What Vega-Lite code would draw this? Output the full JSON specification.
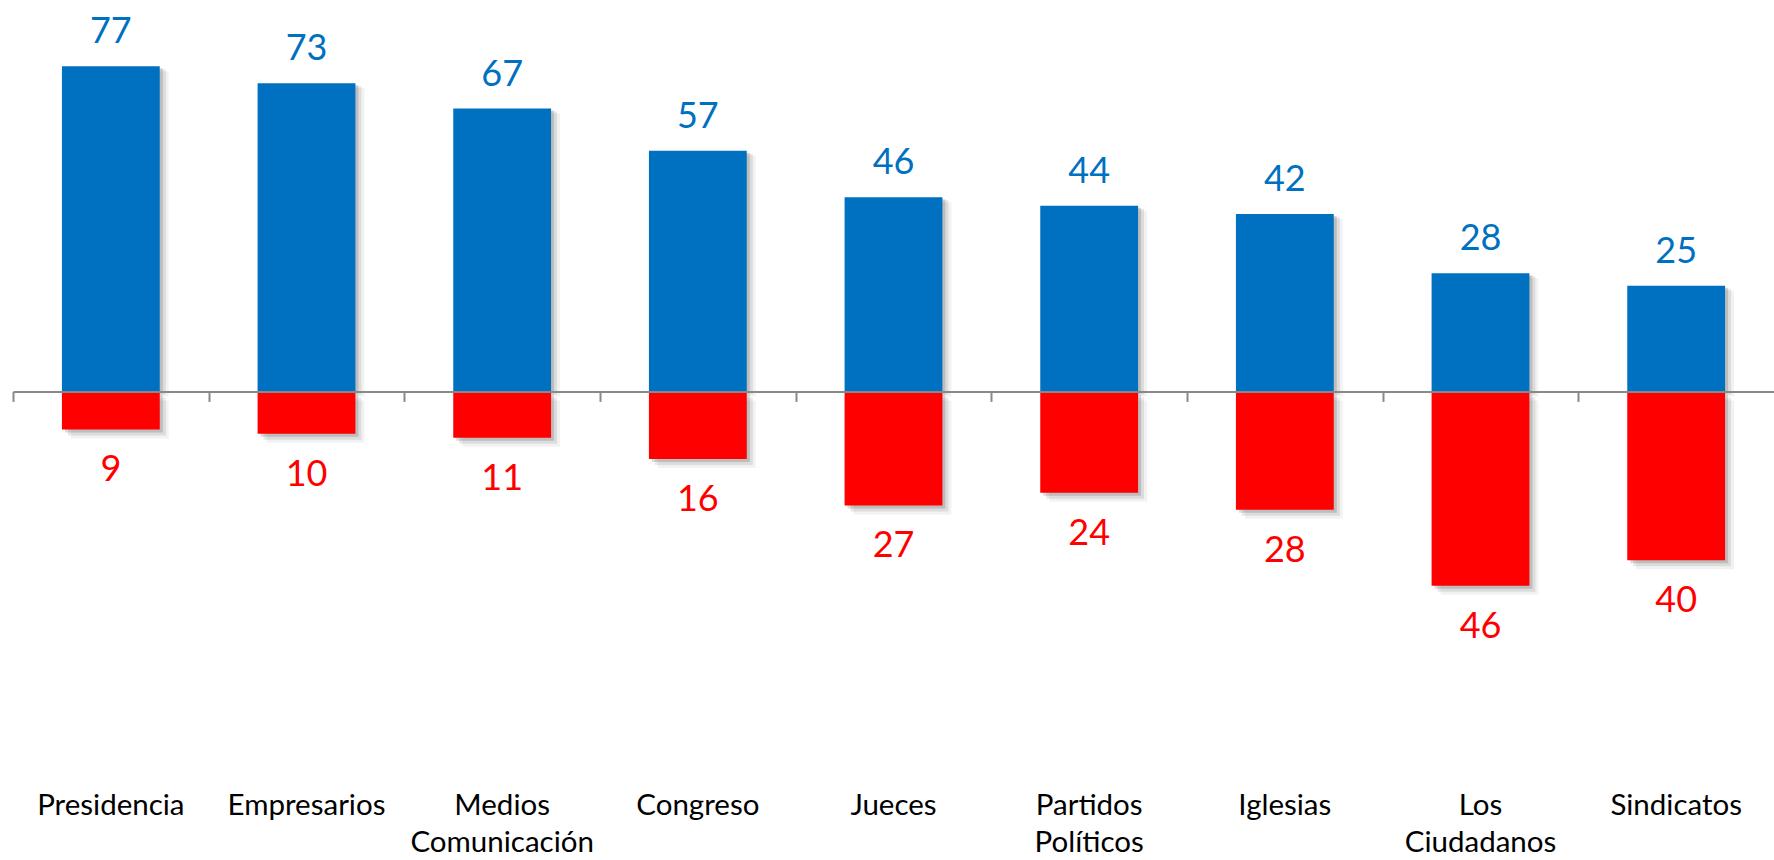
{
  "$schema": "https://vega.github.io/schema/vega-lite/v6.json",
  "width": 1761,
  "height": 687,
  "padding": {"left": 13, "top": 0, "right": 0, "bottom": 173},
  "autosize": {"type": "none"},
  "background": "white",
  "config": {"view": {"stroke": null}},
  "data": {
    "values": [
      {"institucion": "Presidencia", "confianza": 77, "desconfianza": 9},
      {"institucion": "Empresarios", "confianza": 73, "desconfianza": 10},
      {"institucion": "Medios Comunicación", "confianza": 67, "desconfianza": 11},
      {"institucion": "Congreso", "confianza": 57, "desconfianza": 16},
      {"institucion": "Jueces", "confianza": 46, "desconfianza": 27},
      {"institucion": "Partidos Políticos", "confianza": 44, "desconfianza": 24},
      {"institucion": "Iglesias", "confianza": 42, "desconfianza": 28},
      {"institucion": "Los Ciudadanos", "confianza": 28, "desconfianza": 46},
      {"institucion": "Sindicatos", "confianza": 25, "desconfianza": 40}
    ]
  },
  "layer": [
    {
      "encoding": {
        "x": {
          "field": "institucion", "type": "nominal", "sort": null,
          "scale": {"paddingInner": 0.5, "paddingOuter": 0.25},
          "axis": {
            "orient": "bottom",
            "title": null, "domain": false, "ticks": false, "grid": false,
            "labelAngle": 0, "labelFont": "Lato", "labelFontSize": 29.5,
            "labelColor": "#000000", "labelPadding": 104, "labelLineHeight": 37,
            "labelExpr": "split(datum.label, ' ')", "labelLimit": 400
          }
        },
        "y": {
          "field": "confianza", "type": "quantitative",
          "scale": {"domain": [-70, 92.7], "nice": false},
          "axis": null
        }
      },
      "layer": [
        {"mark": {"type": "bar", "color": "#000000", "opacity": 0.05, "xOffset": 9, "yOffset": 5}},
        {"mark": {"type": "bar", "color": "#000000", "opacity": 0.09, "xOffset": 6, "yOffset": 3}},
        {"mark": {"type": "bar", "color": "#000000", "opacity": 0.14, "xOffset": 3, "yOffset": 2}},
        {"mark": {"type": "bar", "color": "#0070C0"}},
        {
          "mark": {"type": "text", "color": "#0070C0", "font": "Lato", "fontSize": 36, "baseline": "alphabetic", "dy": -23},
          "encoding": {"text": {"field": "confianza", "type": "quantitative"}}
        }
      ]
    },
    {
      "encoding": {
        "x": {
          "field": "institucion", "type": "nominal", "sort": null,
          "scale": {"paddingInner": 0.5, "paddingOuter": 0.25},
          "axis": {
            "orient": "bottom",
            "title": null, "labels": false, "grid": false,
            "domain": true, "domainColor": "#898989", "domainWidth": 2,
            "ticks": true, "tickBand": "center", "tickOffset": -97.8,
            "tickColor": "#898989", "tickWidth": 2, "tickSize": 10,
            "offset": -295.6, "zindex": 1
          }
        },
        "y": {
          "field": "desconfianza", "type": "quantitative",
          "scale": {"domain": [-92.7, 70], "nice": false, "reverse": true},
          "axis": null
        }
      },
      "layer": [
        {"mark": {"type": "bar", "color": "#000000", "opacity": 0.05, "xOffset": 9, "yOffset": 9}},
        {"mark": {"type": "bar", "color": "#000000", "opacity": 0.09, "xOffset": 6, "yOffset": 6}},
        {"mark": {"type": "bar", "color": "#000000", "opacity": 0.14, "xOffset": 3, "yOffset": 3}},
        {"mark": {"type": "bar", "color": "#FF0000"}},
        {
          "mark": {"type": "text", "color": "#FF0000", "font": "Lato", "fontSize": 36, "baseline": "alphabetic", "dy": 52},
          "encoding": {"text": {"field": "desconfianza", "type": "quantitative"}}
        }
      ]
    }
  ],
  "resolve": {"scale": {"y": "independent"}, "axis": {"x": "independent"}}
}
